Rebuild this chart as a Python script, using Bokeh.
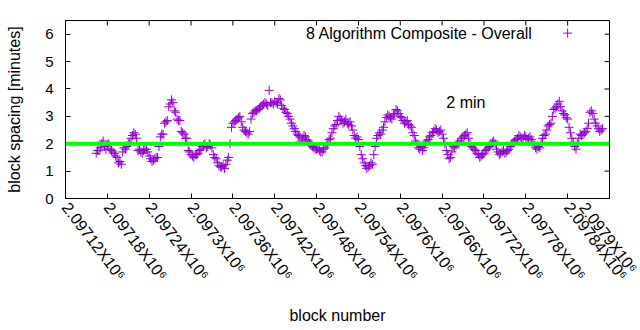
from bokeh.plotting import figure
from bokeh.models import Range1d, FixedTicker, Span, Label, ColumnDataSource
from bokeh.embed import file_html
from bokeh.resources import INLINE

# consecutive sampled block heights (every 2nd block, read in two interleaved passes)
blocks_a = list(range(2097164, 2097892, 4))
blocks_b = list(range(2097166, 2097894, 4))

spacing_a = [
    1.65, 1.75, 2.0, 1.9, 1.95, 1.8, 1.7, 1.55, 1.3, 1.25,
    1.85, 1.9, 2.05, 2.3, 2.35, 1.75, 1.7, 1.75, 1.8, 1.55,
    1.35, 1.45, 1.5, 2.25, 2.35, 2.8, 3.35, 3.6, 3.2, 2.9,
    2.85, 2.4, 2.2, 1.75, 1.6, 1.5, 1.6, 1.75, 1.9, 2.0,
    1.9, 1.95, 1.6, 1.45, 1.2, 1.15, 1.1, 1.4, 2.0, 2.75,
    2.85, 2.95, 2.8, 2.5, 2.4, 2.45, 3.1, 3.2, 3.25, 3.35,
    3.45, 3.45, 3.95, 3.5, 3.55, 3.45, 3.6, 3.3, 3.15, 3.0,
    2.75, 2.55, 2.35, 2.25, 2.2, 2.25, 2.1, 1.95, 1.85, 1.8,
    1.75, 1.7, 1.85, 2.0, 2.2, 2.55, 2.7, 3.0, 2.85, 2.8,
    2.75, 2.8, 2.5, 2.2, 2.15, 1.6, 1.3, 1.1, 1.2, 1.25,
    1.9, 2.3, 2.35, 2.6, 2.95, 3.0, 2.9, 3.1, 3.2, 3.0,
    2.85, 2.8, 2.7, 2.6, 2.3, 2.0, 1.8, 1.75, 2.0, 2.15,
    2.3, 2.45, 2.5, 2.45, 2.35, 2.0, 1.6, 1.5, 1.9, 1.95,
    2.0, 2.2, 2.3, 2.4, 2.0, 1.85, 1.75, 1.6, 1.55, 1.65,
    1.8, 1.9, 2.05, 2.0, 1.7, 1.65, 1.75, 1.7, 1.8, 2.0,
    2.1, 2.2, 2.25, 2.2, 2.25, 2.2, 2.15, 1.95, 1.8, 1.85,
    2.2, 2.35, 2.65, 2.75, 3.25, 3.35, 3.55, 3.2, 3.05, 2.9,
    2.4, 2.05, 1.8, 2.2, 2.3, 2.4, 2.55, 3.15, 3.1, 2.75,
    2.55, 2.5,
]
spacing_b = [
    1.75, 1.85, 2.1, 1.8, 2.0, 1.75, 1.65, 1.5, 1.35, 1.7,
    1.8, 2.0, 2.2, 2.4, 2.2, 1.8, 1.65, 1.8, 1.7, 1.45,
    1.4, 1.5, 1.9, 2.35, 2.75, 2.85, 3.45, 3.5, 3.15, 2.85,
    2.45, 2.35, 2.2, 1.7, 1.55, 1.6, 1.65, 1.8, 1.95, 1.85,
    2.0, 1.85, 1.5, 1.3, 1.15, 1.2, 1.25, 1.5, 2.6, 2.8,
    2.9, 3.0, 2.6, 2.45, 2.35, 2.9, 3.15, 3.2, 3.3, 3.4,
    3.5, 3.4, 3.5, 3.45, 3.5, 3.65, 3.4, 3.25, 3.1, 2.9,
    2.65, 2.45, 2.3, 2.1, 2.3, 2.15, 2.0, 1.9, 1.8, 1.85,
    1.7, 1.8, 1.95, 2.15, 2.4, 2.65, 2.85, 2.9, 2.75, 2.9,
    2.7, 2.65, 2.3, 2.25, 1.9, 1.45, 1.2, 1.15, 1.3, 1.6,
    2.2, 2.4, 2.5, 2.8, 3.05, 2.95, 3.05, 3.25, 3.1, 2.95,
    2.75, 2.85, 2.65, 2.4, 2.1, 1.85, 1.9, 1.85, 2.1, 2.25,
    2.4, 2.55, 2.4, 2.5, 2.2, 1.75, 1.45, 1.7, 1.85, 2.05,
    2.1, 2.25, 2.35, 2.2, 1.9, 1.8, 1.65, 1.5, 1.6, 1.75,
    1.85, 2.0, 2.1, 1.8, 1.6, 1.7, 1.65, 1.75, 1.9, 2.05,
    2.15, 2.3, 2.2, 2.3, 2.15, 2.25, 2.05, 1.85, 1.9, 2.05,
    2.3, 2.5, 2.7, 3.0, 3.3, 3.45, 3.35, 3.1, 2.95, 2.6,
    2.2, 1.9, 2.0, 2.35, 2.35, 2.45, 2.75, 3.2, 2.9, 2.65,
    2.45, 2.55,
]

x_ticks = [2097120, 2097180, 2097240, 2097300, 2097360, 2097420, 2097480,
           2097540, 2097600, 2097660, 2097720, 2097780, 2097840, 2097900]
x_tick_labels = ["2.09712X10⁶", "2.09718X10⁶", "2.09724X10⁶", "2.0973X10⁶",
                 "2.09736X10⁶", "2.09742X10⁶", "2.09748X10⁶", "2.09754X10⁶",
                 "2.0976X10⁶", "2.09766X10⁶", "2.09772X10⁶", "2.09778X10⁶",
                 "2.09784X10⁶", "2.0979X10⁶"]
y_ticks = [0, 1, 2, 3, 4, 5, 6]
target_minutes = 2
series_name = "8 Algorithm Composite - Overall"
target_label = "2 min"

FONT = "Liberation Sans"
PURPLE = "#9400D3"

X0, X1, Y0, Y1 = 2097120, 2097900, 0, 6.5
FRAME_W, FRAME_H = 544, 178

p = figure(width=640, height=330, output_backend="svg", toolbar_location=None,
           x_range=Range1d(X0, X1), y_range=Range1d(Y0, Y1),
           min_border_left=65, min_border_right=31, min_border_top=20,
           min_border_bottom=132)
p.grid.visible = False
p.outline_line_color = "black"
p.outline_line_width = 1
p.background_fill_color = "white"
p.border_fill_color = "white"

p.xaxis.ticker = FixedTicker(ticks=x_ticks)
p.xaxis.major_label_overrides = {t: l for t, l in zip(x_ticks, x_tick_labels)}
p.xaxis.major_label_orientation = -0.92
p.xaxis.major_label_standoff = 6
p.xaxis.axis_label = "block number"
p.xaxis.axis_label_standoff = 15

p.yaxis.ticker = FixedTicker(ticks=y_ticks)
p.yaxis.major_label_standoff = 12
p.yaxis.axis_label = "block spacing [minutes]"
p.yaxis.axis_label_standoff = 19

for ax in [p.xaxis[0], p.yaxis[0]]:
    ax.major_tick_in = 5
    ax.major_tick_out = 0
    ax.minor_tick_line_color = None
    ax.axis_line_color = "black"
    ax.major_tick_line_color = "black"
    ax.major_label_text_font = FONT
    ax.major_label_text_font_size = "15px"
    ax.major_label_text_color = "black"
    ax.axis_label_text_font = FONT
    ax.axis_label_text_font_size = "16px"
    ax.axis_label_text_font_style = "normal"
    ax.axis_label_text_color = "black"
p.xaxis[0].major_label_text_font_size = "16px"

# mirrored inward tick marks on the top and right frame edges (5 px long)
tick_dy = 5 * (Y1 - Y0) / FRAME_H
tick_dx = 5 * (X1 - X0) / FRAME_W
p.segment(x0=x_ticks, y0=[Y1] * len(x_ticks), x1=x_ticks, y1=[Y1 - tick_dy] * len(x_ticks),
          line_color="black", line_width=1)
p.segment(x0=[X1] * len(y_ticks), y0=y_ticks, x1=[X1 - tick_dx] * len(y_ticks), y1=y_ticks,
          line_color="black", line_width=1)

src = ColumnDataSource(dict(x=blocks_a + blocks_b, y=spacing_a + spacing_b))
p.scatter("x", "y", source=src, marker="cross", size=9, line_color=PURPLE, line_width=1)

p.add_layout(Span(location=target_minutes, dimension="width", line_color="#00FF00", line_width=4))

p.add_layout(Label(x=2097666, y=3.5, text=target_label, text_font=FONT, text_font_size="16px",
                   text_baseline="middle", text_align="left", text_color="black"))

# key (text left of the marker, gnuplot style)
key_y = 6.04
key_text_x = X1 - 110
key_mark_x = X1 - 60
p.add_layout(Label(x=key_text_x, y=key_y, text=series_name, text_font=FONT, text_font_size="16px",
                   text_baseline="middle", text_align="right", text_color="black"))
p.scatter([key_mark_x], [key_y], marker="cross", size=9, line_color=PURPLE, line_width=1)

open("out.html", "w").write(file_html(p, INLINE))
